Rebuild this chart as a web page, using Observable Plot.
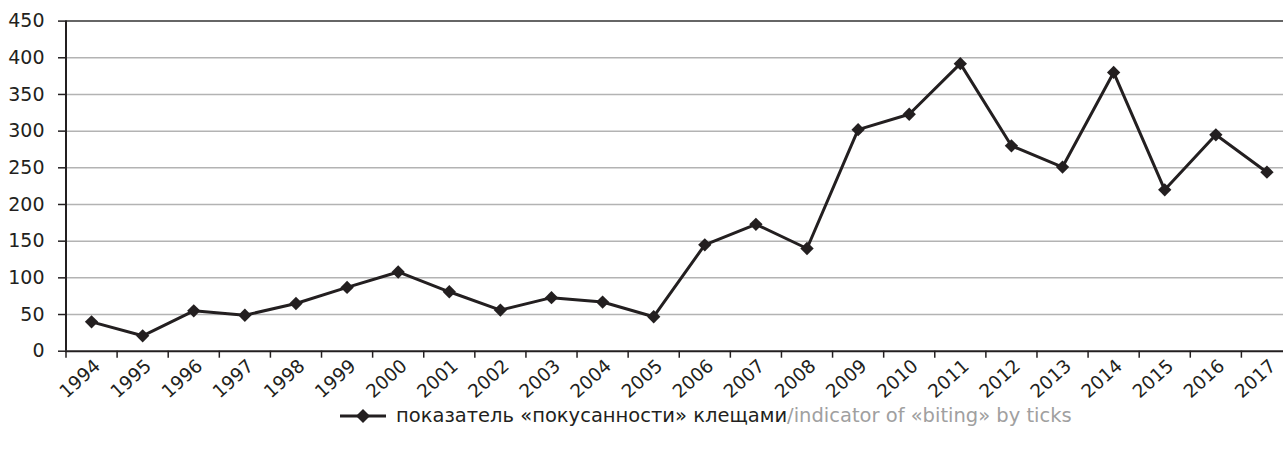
<!DOCTYPE html>
<html><head><meta charset="utf-8">
<script src="https://cdn.jsdelivr.net/npm/d3@7"></script>
<script src="https://cdn.jsdelivr.net/npm/@observablehq/plot@0.6"></script>
<style>
body{margin:0;background:#fff;overflow:hidden;font-family:"DejaVu Sans",sans-serif;}
#chart{position:absolute;left:0;top:0;}
#legend{position:absolute;left:340px;top:404px;display:flex;align-items:center;font-size:19.5px;color:#231f20;white-space:nowrap}
#legend svg{margin-right:10px}
</style></head><body><div id="chart"></div><div id="legend"></div>
<script>
const years = [1994,1995,1996,1997,1998,1999,2000,2001,2002,2003,2004,2005,2006,2007,2008,2009,2010,2011,2012,2013,2014,2015,2016,2017];
const values = [40,21,55,49,65,87,108,81,56,73,67,47,145,173,140,302,323,392,280,251,380,220,295,244];
const yTicks = [0,50,100,150,200,250,300,350,400,450];
const legendRu = "показатель «покусанности» клещами";
const legendEn = "/indicator of «biting» by ticks";

const data = years.map((year,i)=>({year, value: values[i]}));
const boundaries = years.map(y=>y-0.5).concat([years[years.length-1]+0.5]);
const ink = "#231f20";

const plot = Plot.plot({
  width:1283, height:398, marginTop:20.6, marginBottom:47.3, marginLeft:65, marginRight:0,
  style:{fontFamily:"'DejaVu Sans', sans-serif", fontSize:"19px", color:ink, background:"#fff", overflow:"visible"},
  x:{type:"linear", domain:[1993.5, 2017.5], range:[65.5,1292]},
  y:{domain:[0,450], range:[350.7,20.6]},
  marks:[
    Plot.ruleY(yTicks.filter(d=>d>0 && d<450), {stroke:"#b3b3b3", strokeWidth:1.5}),
    Plot.ruleY([450], {stroke:"#333", strokeWidth:1.5}),
    Plot.axisY({ticks:yTicks, tickSize:7, tickPadding:14, label:null, stroke:ink, strokeWidth:1.5, fill:ink, fontSize:19}),
    Plot.ruleX([1993.5], {stroke:ink, strokeWidth:2}),
    Plot.ruleY([0], {stroke:ink, strokeWidth:2}),
    Plot.axisX({ticks:boundaries, tickSize:7, tickFormat:()=>"", label:null, stroke:ink, strokeWidth:1.5}),
    Plot.axisX({ticks:years, tickSize:0, tickPadding:12, tickFormat:d=>String(d), tickRotate:-42, textAnchor:"end", label:null, fill:ink, dx:6, fontSize:18.5}),
    Plot.line(data,{x:"year", y:"value", stroke:ink, strokeWidth:3}),
    Plot.dot(data,{x:"year", y:"value", symbol:"diamond2", r:6, fill:ink, stroke:null})
  ]
});
document.getElementById("chart").append(plot);

const lg = document.getElementById("legend");
lg.innerHTML = `<svg width="46" height="16"><line x1="0" y1="8" x2="46" y2="8" stroke="${ink}" stroke-width="3"/><path d="M23,1L30,8L23,15L16,8Z" fill="${ink}"/></svg><span>${legendRu}</span><span style="color:#a0a0a0">${legendEn}</span>`;
</script></body></html>
